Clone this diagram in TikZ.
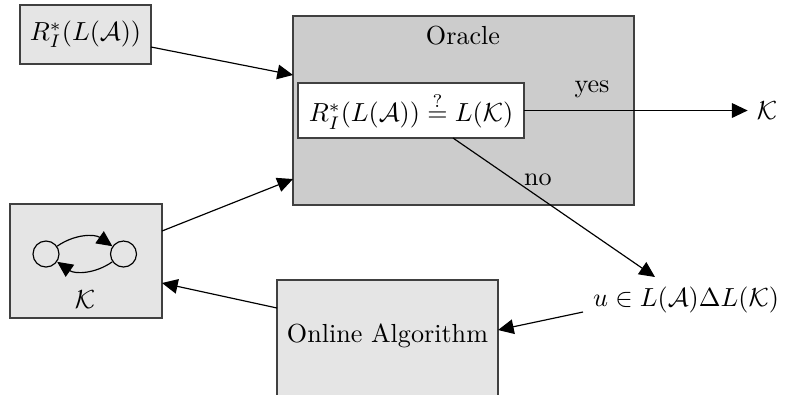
\documentclass[tikz,border=0pt]{standalone}
\usepackage{amsmath,amssymb}
\usetikzlibrary{arrows.meta,calc}
\newcommand{\pxu}[1]{#1*0.383pt}
\begin{document}
\begin{tikzpicture}[x=0.383pt,y=-0.383pt,
  boxs/.style={draw=black!75,line width=0.45pt,inner sep=0pt,outer sep=0pt},
  conn/.style={line width=0.45pt,-{Triangle[length=6pt,width=5.6pt]}},
  st/.style={circle,draw,line width=0.45pt,minimum size={\pxu{26}},inner sep=0pt}]
\useasboundingbox (0,0) rectangle (787,394);
\node[boxs,fill=black!10,minimum width={\pxu{131}},minimum height={\pxu{59}}] (rbox) at (85.5,34.5) {$R_I^*(L(\mathcal{A}))$};
\node[boxs,fill=black!20,minimum width={\pxu{341}},minimum height={\pxu{189}}] (oracle) at (463.5,110.5) {};
\node (otitle) at (463,36) {Oracle};
\node[boxs,fill=white,minimum width={\pxu{226}},minimum height={\pxu{55}}] (test) at (411,110.5) {$R_I^*(L(\mathcal{A}))\overset{?}{=}L(\mathcal{K})$};
\node (kout) at (767,110.5) {$\mathcal{K}$};
\node (u) at (686,300) {$u\in L(\mathcal{A})\Delta L(\mathcal{K})$};
\node[boxs,fill=black!10,minimum width={\pxu{221}},minimum height={\pxu{118}}] (online) at (387.5,339) {};
\node (otext) at (387.5,336) {Online Algorithm};
\node[boxs,fill=black!10,minimum width={\pxu{152}},minimum height={\pxu{114}}] (kbox) at (86,261) {};
\node[st] (c1) at (46,254) {};
\node[st] (c2) at (123.5,254) {};
\node (klab) at (85,300) {$\mathcal{K}$};
\node (yes) at (592,89) {yes};
\node (no) at (538,180) {no};
% connectors
\coordinate (a1) at (151,47);
\coordinate (a2) at (293,75);
\draw[conn] (a1) -- (a2);
\coordinate (b1) at (162,231);
\coordinate (b2) at (293,179);
\draw[conn] (b1) -- (b2);
\draw[conn] (test.east) -- (kout.west);
\coordinate (n1) at (453,138);
\coordinate (n2) at (655,277);
\draw[conn] (n1) -- (n2);
\coordinate (u1) at (583,312);
\coordinate (u2) at (498,330);
\draw[conn] (u1) -- (u2);
\coordinate (o1) at (277,308);
\coordinate (o2) at (162,283);
\draw[conn] (o1) -- (o2);
\draw[conn] (c1) to[bend left=35] (c2);
\draw[conn] (c2) to[bend left=35] (c1);
\end{tikzpicture}
\end{document}
